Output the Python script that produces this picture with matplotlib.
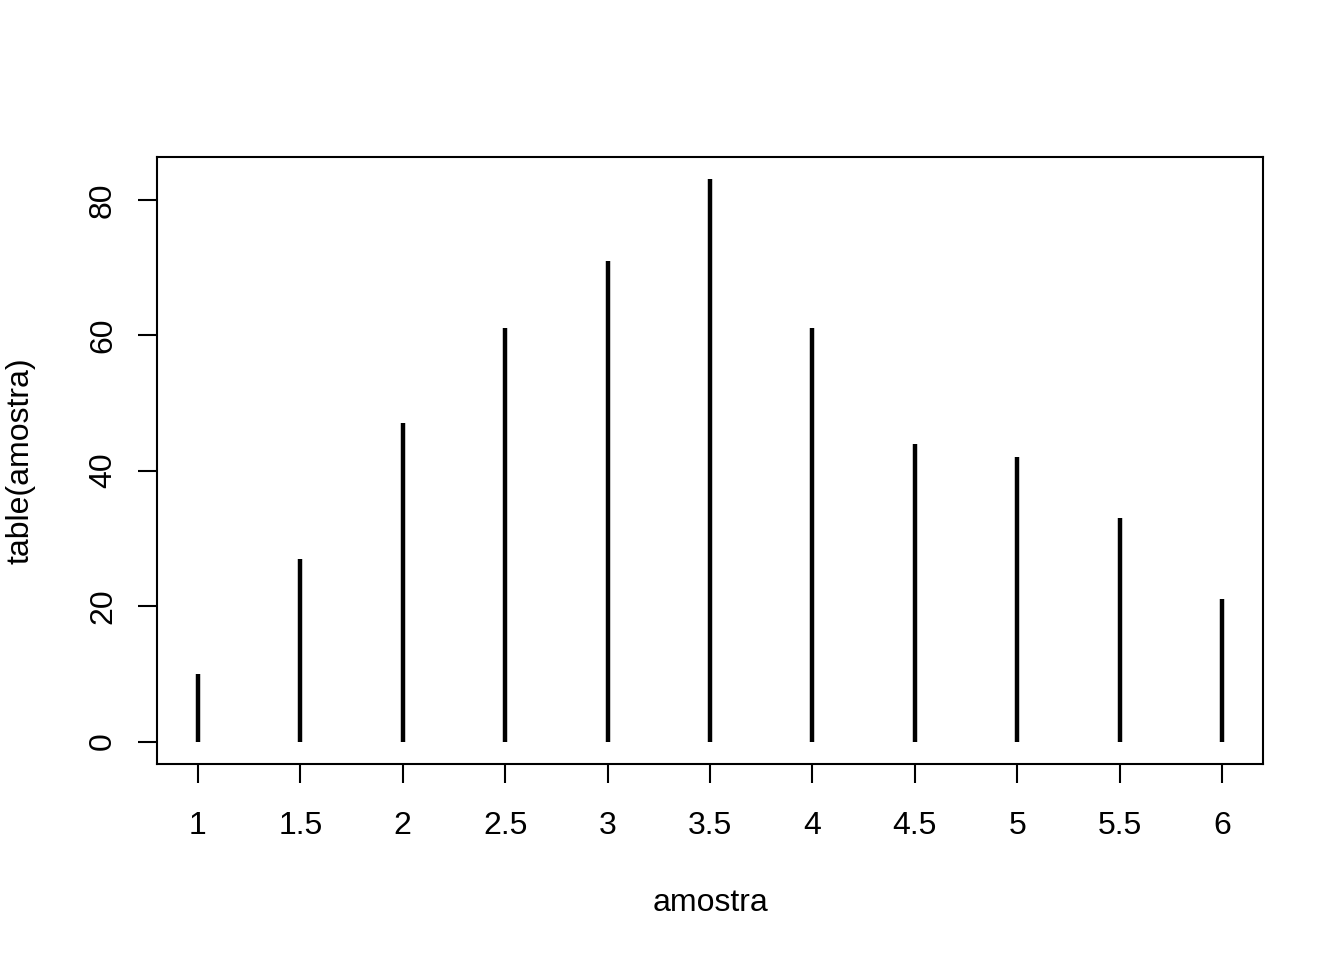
import matplotlib
matplotlib.use("Agg")
import matplotlib.pyplot as plt

plt.rcParams['font.family'] = ['Liberation Sans', 'DejaVu Sans']

# valores de table(amostra)
amostra_vals = [1, 1.5, 2, 2.5, 3, 3.5, 4, 4.5, 5, 5.5, 6]
freq = [10, 27, 47, 61, 71, 83, 61, 44, 42, 33, 21]
x_ticklabels = ['1', '1.5', '2', '2.5', '3', '3.5', '4', '4.5', '5', '5.5', '6']
y_ticks = [0, 20, 40, 60, 80]

fig = plt.figure(figsize=(13.44, 9.6), dpi=100)
ax = fig.add_axes([157 / 1344, 1 - 764 / 960, (1263 - 157) / 1344, (764 - 157) / 960])

ax.vlines(amostra_vals, 0, freq, colors='black', linewidth=3.2)

ax.set_xlim(0.8, 6.2)
ymax = max(freq)
ax.set_ylim(-0.04 * ymax, ymax * 1.04)

ax.set_xticks(amostra_vals)
ax.set_xticklabels(x_ticklabels)
ax.set_yticks(y_ticks)
ax.set_yticklabels([str(v) for v in y_ticks], rotation=90, va='center')

ax.tick_params(direction='out', length=14, width=1.5, labelsize=23, pad=20)
ax.tick_params(axis='y', pad=14)
for s in ax.spines.values():
    s.set_linewidth(1.5)

ax.set_xlabel('amostra', fontsize=23, labelpad=34)
ax.set_ylabel('table(amostra)', fontsize=23, labelpad=38)

fig.savefig('out.png', dpi=100)
